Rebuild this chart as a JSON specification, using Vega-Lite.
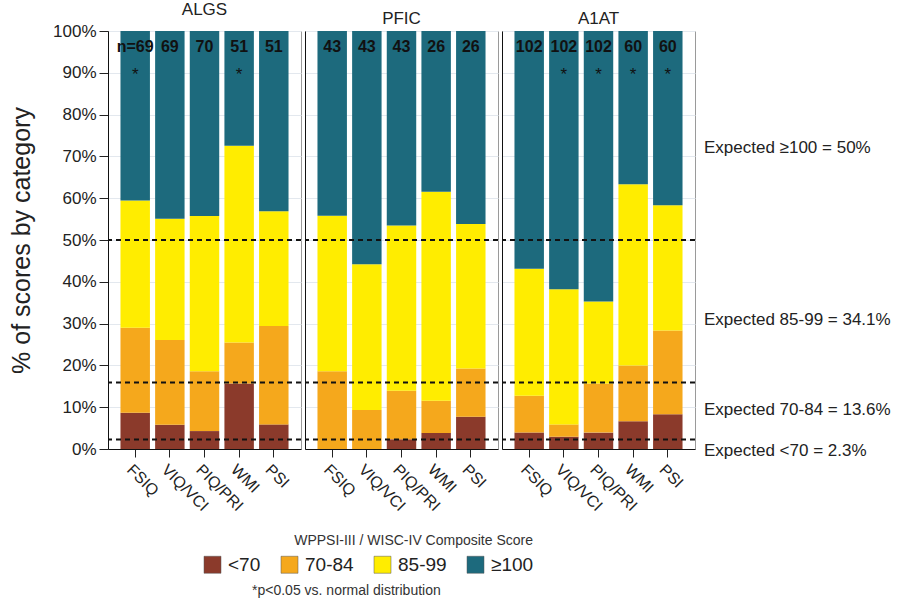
{
  "$schema": "https://vega.github.io/schema/vega-lite/v6.json",
  "padding": {"left": 9, "top": 0, "right": 0, "bottom": 0},
  "background": "white",
  "config": {
    "font": "Liberation Sans",
    "view": {"stroke": "#9a9a9a", "strokeWidth": 1},
    "concat": {"spacing": 0},
    "title": {"fontSize": 17, "fontWeight": "normal", "color": "#222", "offset": 3},
    "axisX": {"title": null, "labelAngle": 45, "labelAlign": "left", "labelBaseline": "top", "labelFontSize": 16, "labelColor": "#222", "tickSize": 8, "tickColor": "#222", "domainColor": "#111", "labelPadding": 4, "grid": false},
    "axisY": {"grid": true, "gridColor": "#e3e8ee", "domainColor": "#111", "tickColor": "#222"}
  },
  "datasets": {
    "bars": [
      {"panel": "ALGS", "measure": "FSIQ", "cat": "<70", "k": 1, "count": 6},
      {"panel": "ALGS", "measure": "FSIQ", "cat": "70-84", "k": 2, "count": 14},
      {"panel": "ALGS", "measure": "FSIQ", "cat": "85-99", "k": 3, "count": 21},
      {"panel": "ALGS", "measure": "FSIQ", "cat": "≥100", "k": 4, "count": 28},
      {"panel": "ALGS", "measure": "VIQ/VCI", "cat": "<70", "k": 1, "count": 4},
      {"panel": "ALGS", "measure": "VIQ/VCI", "cat": "70-84", "k": 2, "count": 14},
      {"panel": "ALGS", "measure": "VIQ/VCI", "cat": "85-99", "k": 3, "count": 20},
      {"panel": "ALGS", "measure": "VIQ/VCI", "cat": "≥100", "k": 4, "count": 31},
      {"panel": "ALGS", "measure": "PIQ/PRI", "cat": "<70", "k": 1, "count": 3},
      {"panel": "ALGS", "measure": "PIQ/PRI", "cat": "70-84", "k": 2, "count": 10},
      {"panel": "ALGS", "measure": "PIQ/PRI", "cat": "85-99", "k": 3, "count": 26},
      {"panel": "ALGS", "measure": "PIQ/PRI", "cat": "≥100", "k": 4, "count": 31},
      {"panel": "ALGS", "measure": "WMI", "cat": "<70", "k": 1, "count": 8},
      {"panel": "ALGS", "measure": "WMI", "cat": "70-84", "k": 2, "count": 5},
      {"panel": "ALGS", "measure": "WMI", "cat": "85-99", "k": 3, "count": 24},
      {"panel": "ALGS", "measure": "WMI", "cat": "≥100", "k": 4, "count": 14},
      {"panel": "ALGS", "measure": "PSI", "cat": "<70", "k": 1, "count": 3},
      {"panel": "ALGS", "measure": "PSI", "cat": "70-84", "k": 2, "count": 12},
      {"panel": "ALGS", "measure": "PSI", "cat": "85-99", "k": 3, "count": 14},
      {"panel": "ALGS", "measure": "PSI", "cat": "≥100", "k": 4, "count": 22},
      {"panel": "PFIC", "measure": "FSIQ", "cat": "<70", "k": 1, "count": 0},
      {"panel": "PFIC", "measure": "FSIQ", "cat": "70-84", "k": 2, "count": 8},
      {"panel": "PFIC", "measure": "FSIQ", "cat": "85-99", "k": 3, "count": 16},
      {"panel": "PFIC", "measure": "FSIQ", "cat": "≥100", "k": 4, "count": 19},
      {"panel": "PFIC", "measure": "VIQ/VCI", "cat": "<70", "k": 1, "count": 0},
      {"panel": "PFIC", "measure": "VIQ/VCI", "cat": "70-84", "k": 2, "count": 4},
      {"panel": "PFIC", "measure": "VIQ/VCI", "cat": "85-99", "k": 3, "count": 15},
      {"panel": "PFIC", "measure": "VIQ/VCI", "cat": "≥100", "k": 4, "count": 24},
      {"panel": "PFIC", "measure": "PIQ/PRI", "cat": "<70", "k": 1, "count": 1},
      {"panel": "PFIC", "measure": "PIQ/PRI", "cat": "70-84", "k": 2, "count": 5},
      {"panel": "PFIC", "measure": "PIQ/PRI", "cat": "85-99", "k": 3, "count": 17},
      {"panel": "PFIC", "measure": "PIQ/PRI", "cat": "≥100", "k": 4, "count": 20},
      {"panel": "PFIC", "measure": "WMI", "cat": "<70", "k": 1, "count": 1},
      {"panel": "PFIC", "measure": "WMI", "cat": "70-84", "k": 2, "count": 2},
      {"panel": "PFIC", "measure": "WMI", "cat": "85-99", "k": 3, "count": 13},
      {"panel": "PFIC", "measure": "WMI", "cat": "≥100", "k": 4, "count": 10},
      {"panel": "PFIC", "measure": "PSI", "cat": "<70", "k": 1, "count": 2},
      {"panel": "PFIC", "measure": "PSI", "cat": "70-84", "k": 2, "count": 3},
      {"panel": "PFIC", "measure": "PSI", "cat": "85-99", "k": 3, "count": 9},
      {"panel": "PFIC", "measure": "PSI", "cat": "≥100", "k": 4, "count": 12},
      {"panel": "A1AT", "measure": "FSIQ", "cat": "<70", "k": 1, "count": 4},
      {"panel": "A1AT", "measure": "FSIQ", "cat": "70-84", "k": 2, "count": 9},
      {"panel": "A1AT", "measure": "FSIQ", "cat": "85-99", "k": 3, "count": 31},
      {"panel": "A1AT", "measure": "FSIQ", "cat": "≥100", "k": 4, "count": 58},
      {"panel": "A1AT", "measure": "VIQ/VCI", "cat": "<70", "k": 1, "count": 3},
      {"panel": "A1AT", "measure": "VIQ/VCI", "cat": "70-84", "k": 2, "count": 3},
      {"panel": "A1AT", "measure": "VIQ/VCI", "cat": "85-99", "k": 3, "count": 33},
      {"panel": "A1AT", "measure": "VIQ/VCI", "cat": "≥100", "k": 4, "count": 63},
      {"panel": "A1AT", "measure": "PIQ/PRI", "cat": "<70", "k": 1, "count": 4},
      {"panel": "A1AT", "measure": "PIQ/PRI", "cat": "70-84", "k": 2, "count": 12},
      {"panel": "A1AT", "measure": "PIQ/PRI", "cat": "85-99", "k": 3, "count": 20},
      {"panel": "A1AT", "measure": "PIQ/PRI", "cat": "≥100", "k": 4, "count": 66},
      {"panel": "A1AT", "measure": "WMI", "cat": "<70", "k": 1, "count": 4},
      {"panel": "A1AT", "measure": "WMI", "cat": "70-84", "k": 2, "count": 8},
      {"panel": "A1AT", "measure": "WMI", "cat": "85-99", "k": 3, "count": 26},
      {"panel": "A1AT", "measure": "WMI", "cat": "≥100", "k": 4, "count": 22},
      {"panel": "A1AT", "measure": "PSI", "cat": "<70", "k": 1, "count": 5},
      {"panel": "A1AT", "measure": "PSI", "cat": "70-84", "k": 2, "count": 12},
      {"panel": "A1AT", "measure": "PSI", "cat": "85-99", "k": 3, "count": 18},
      {"panel": "A1AT", "measure": "PSI", "cat": "≥100", "k": 4, "count": 25}
    ],
    "labels": [
      {"panel": "ALGS", "measure": "FSIQ", "n": "n=69", "star": true},
      {"panel": "ALGS", "measure": "VIQ/VCI", "n": "69", "star": false},
      {"panel": "ALGS", "measure": "PIQ/PRI", "n": "70", "star": false},
      {"panel": "ALGS", "measure": "WMI", "n": "51", "star": true},
      {"panel": "ALGS", "measure": "PSI", "n": "51", "star": false},
      {"panel": "PFIC", "measure": "FSIQ", "n": "43", "star": false},
      {"panel": "PFIC", "measure": "VIQ/VCI", "n": "43", "star": false},
      {"panel": "PFIC", "measure": "PIQ/PRI", "n": "43", "star": false},
      {"panel": "PFIC", "measure": "WMI", "n": "26", "star": false},
      {"panel": "PFIC", "measure": "PSI", "n": "26", "star": false},
      {"panel": "A1AT", "measure": "FSIQ", "n": "102", "star": false},
      {"panel": "A1AT", "measure": "VIQ/VCI", "n": "102", "star": true},
      {"panel": "A1AT", "measure": "PIQ/PRI", "n": "102", "star": true},
      {"panel": "A1AT", "measure": "WMI", "n": "60", "star": true},
      {"panel": "A1AT", "measure": "PSI", "n": "60", "star": true}
    ],
    "thresholds": [
      {"name": "<70", "cum": 0.023},
      {"name": "70-84", "cum": 0.159},
      {"name": "mean", "cum": 0.5}
    ],
    "expected": [
      {"key": "a", "label": "Expected ≥100 = 50%"},
      {"key": "b", "label": "Expected 85-99 = 34.1%"},
      {"key": "c", "label": "Expected 70-84 = 13.6%"},
      {"key": "d", "label": "Expected <70 = 2.3%"}
    ]
  },
  "title": {"text": "*p<0.05 vs. normal distribution", "orient": "bottom", "anchor": "start", "dx": 243, "fontSize": 14, "fontWeight": "normal", "color": "#333", "offset": 9},
  "hconcat": [
    {
      "width": 193, "height": 418,
      "title": "ALGS",
      "layer": [
        {
          "data": {"name": "bars"},
          "transform": [{"filter": "datum.panel === 'ALGS'"}],
          "mark": {"type": "bar"},
          "encoding": {
            "x": {"field": "measure", "type": "nominal", "sort": ["FSIQ", "VIQ/VCI", "PIQ/PRI", "WMI", "PSI"], "scale": {"paddingInner": 0.15, "paddingOuter": 0.36}},
            "y": {"field": "count", "type": "quantitative", "stack": "normalize", "scale": {"domain": [0, 1], "nice": false},
                  "axis": {"title": "% of scores by category", "titleFontSize": 25, "titleFontWeight": "normal", "titleColor": "#222", "titlePadding": 18, "format": ".0%", "values": [0, 0.1, 0.2, 0.3, 0.4, 0.5, 0.6, 0.7, 0.8, 0.9, 1], "labelFontSize": 17, "labelColor": "#222", "tickSize": 9, "labelPadding": 3}},
            "color": {"field": "cat", "type": "nominal", "scale": {"domain": ["<70", "70-84", "85-99", "≥100"], "range": ["#8b3a2b", "#f5a81c", "#ffed00", "#1d6a7d"]},
                      "legend": {"title": "WPPSI-III / WISC-IV Composite Score", "orient": "none", "legendX": 95, "legendY": 503, "direction": "horizontal", "titleFontSize": 14, "titleFontWeight": "normal", "titleColor": "#333", "titleAnchor": "end", "titleLimit": 500, "titlePadding": 7, "labelFontSize": 19, "labelColor": "#222", "symbolType": "square", "symbolSize": 289, "symbolStrokeColor": "#555", "symbolStrokeWidth": 0.5, "columnPadding": 19, "labelOffset": 6}},
            "order": {"field": "k", "type": "quantitative"}
          }
        },
        {
          "data": {"name": "thresholds"},
          "mark": {"type": "rule", "color": "#111", "strokeWidth": 2, "strokeDash": [5, 4]},
          "encoding": {"y": {"field": "cum", "type": "quantitative"}}
        },
        {
          "data": {"name": "labels"},
          "transform": [{"filter": "datum.panel === 'ALGS'"}],
          "mark": {"type": "text", "fontSize": 16, "fontWeight": "bold", "color": "#111"},
          "encoding": {"x": {"field": "measure", "type": "nominal", "sort": ["FSIQ", "VIQ/VCI", "PIQ/PRI", "WMI", "PSI"]}, "y": {"datum": 0.962}, "text": {"field": "n"}}
        },
        {
          "data": {"name": "labels"},
          "transform": [{"filter": "datum.panel === 'ALGS' && datum.star"}],
          "mark": {"type": "text", "fontSize": 17, "color": "#111", "baseline": "middle"},
          "encoding": {"x": {"field": "measure", "type": "nominal", "sort": ["FSIQ", "VIQ/VCI", "PIQ/PRI", "WMI", "PSI"]}, "y": {"datum": 0.895}, "text": {"value": "*"}}
        }
      ]
    },
    {
      "width": 193, "height": 418,
      "title": "PFIC",
      "layer": [
        {
          "data": {"name": "bars"},
          "transform": [{"filter": "datum.panel === 'PFIC'"}],
          "mark": {"type": "bar"},
          "encoding": {
            "x": {"field": "measure", "type": "nominal", "sort": ["FSIQ", "VIQ/VCI", "PIQ/PRI", "WMI", "PSI"], "scale": {"paddingInner": 0.15, "paddingOuter": 0.36}},
            "y": {"field": "count", "type": "quantitative", "stack": "normalize", "scale": {"domain": [0, 1], "nice": false},
                  "axis": {"title": null, "labels": false, "ticks": false, "values": [0, 0.1, 0.2, 0.3, 0.4, 0.5, 0.6, 0.7, 0.8, 0.9, 1]}},
            "color": {"field": "cat", "type": "nominal", "scale": {"domain": ["<70", "70-84", "85-99", "≥100"], "range": ["#8b3a2b", "#f5a81c", "#ffed00", "#1d6a7d"]}},
            "order": {"field": "k", "type": "quantitative"}
          }
        },
        {
          "data": {"name": "thresholds"},
          "mark": {"type": "rule", "color": "#111", "strokeWidth": 2, "strokeDash": [5, 4]},
          "encoding": {"y": {"field": "cum", "type": "quantitative"}}
        },
        {
          "data": {"name": "labels"},
          "transform": [{"filter": "datum.panel === 'PFIC'"}],
          "mark": {"type": "text", "fontSize": 16, "fontWeight": "bold", "color": "#111"},
          "encoding": {"x": {"field": "measure", "type": "nominal", "sort": ["FSIQ", "VIQ/VCI", "PIQ/PRI", "WMI", "PSI"]}, "y": {"datum": 0.962}, "text": {"field": "n"}}
        }
      ]
    },
    {
      "width": 193, "height": 418,
      "title": "A1AT",
      "layer": [
        {
          "data": {"name": "bars"},
          "transform": [{"filter": "datum.panel === 'A1AT'"}],
          "mark": {"type": "bar"},
          "encoding": {
            "x": {"field": "measure", "type": "nominal", "sort": ["FSIQ", "VIQ/VCI", "PIQ/PRI", "WMI", "PSI"], "scale": {"paddingInner": 0.15, "paddingOuter": 0.36}},
            "y": {"field": "count", "type": "quantitative", "stack": "normalize", "scale": {"domain": [0, 1], "nice": false},
                  "axis": {"title": null, "labels": false, "ticks": false, "values": [0, 0.1, 0.2, 0.3, 0.4, 0.5, 0.6, 0.7, 0.8, 0.9, 1]}},
            "color": {"field": "cat", "type": "nominal", "scale": {"domain": ["<70", "70-84", "85-99", "≥100"], "range": ["#8b3a2b", "#f5a81c", "#ffed00", "#1d6a7d"]}},
            "order": {"field": "k", "type": "quantitative"}
          }
        },
        {
          "data": {"name": "thresholds"},
          "mark": {"type": "rule", "color": "#111", "strokeWidth": 2, "strokeDash": [5, 4]},
          "encoding": {"y": {"field": "cum", "type": "quantitative"}}
        },
        {
          "data": {"name": "labels"},
          "transform": [{"filter": "datum.panel === 'A1AT'"}],
          "mark": {"type": "text", "fontSize": 16, "fontWeight": "bold", "color": "#111"},
          "encoding": {"x": {"field": "measure", "type": "nominal", "sort": ["FSIQ", "VIQ/VCI", "PIQ/PRI", "WMI", "PSI"]}, "y": {"datum": 0.962}, "text": {"field": "n"}}
        },
        {
          "data": {"name": "labels"},
          "transform": [{"filter": "datum.panel === 'A1AT' && datum.star"}],
          "mark": {"type": "text", "fontSize": 17, "color": "#111", "baseline": "middle"},
          "encoding": {"x": {"field": "measure", "type": "nominal", "sort": ["FSIQ", "VIQ/VCI", "PIQ/PRI", "WMI", "PSI"]}, "y": {"datum": 0.895}, "text": {"value": "*"}}
        }
      ]
    },
    {
      "width": 200, "height": 418,
      "view": {"stroke": null},
      "data": {"name": "expected"},
      "layer": [
        {"transform": [{"filter": "datum.key === 'a'"}], "mark": {"type": "text", "align": "left", "fontSize": 17, "color": "#222"}, "encoding": {"x": {"datum": 0.035, "type": "quantitative", "scale": {"domain": [0, 1]}, "axis": null}, "y": {"datum": 0.72, "type": "quantitative", "scale": {"domain": [0, 1], "nice": false}, "axis": null}, "text": {"field": "label"}}},
        {"transform": [{"filter": "datum.key === 'b'"}], "mark": {"type": "text", "align": "left", "fontSize": 17, "color": "#222"}, "encoding": {"x": {"datum": 0.035, "type": "quantitative"}, "y": {"datum": 0.309, "type": "quantitative"}, "text": {"field": "label"}}},
        {"transform": [{"filter": "datum.key === 'c'"}], "mark": {"type": "text", "align": "left", "fontSize": 17, "color": "#222"}, "encoding": {"x": {"datum": 0.035, "type": "quantitative"}, "y": {"datum": 0.093, "type": "quantitative"}, "text": {"field": "label"}}},
        {"transform": [{"filter": "datum.key === 'd'"}], "mark": {"type": "text", "align": "left", "fontSize": 17, "color": "#222"}, "encoding": {"x": {"datum": 0.035, "type": "quantitative"}, "y": {"datum": -0.005, "type": "quantitative"}, "text": {"field": "label"}}}
      ]
    }
  ]
}
